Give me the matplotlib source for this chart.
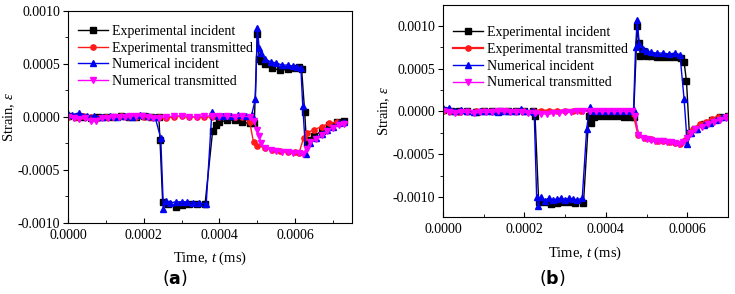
import numpy as np
import matplotlib
matplotlib.use("Agg")
import matplotlib.pyplot as plt
from matplotlib.ticker import MultipleLocator, FormatStrFormatter

plt.rcParams['font.family'] = ['Liberation Serif', 'DejaVu Serif']
plt.rcParams['mathtext.fontset'] = 'custom'
plt.rcParams['mathtext.rm'] = 'Liberation Serif'
plt.rcParams['mathtext.it'] = 'Liberation Serif:italic'
plt.rcParams['mathtext.bf'] = 'DejaVu Sans:bold'

# time and strain both in units of 1e-4 (ms and -)
# ---- panel (a) ----
a_exp_inc_t = [0, 0.2, 0.4, 0.6, 0.8, 1.0, 1.2, 1.4, 1.6, 1.8, 2.0, 2.2, 2.4, 2.43, 2.5, 2.65, 2.85, 3.0, 3.2, 3.4, 3.62,
               3.82, 3.9, 4.0, 4.2, 4.4, 4.6, 4.8, 4.92, 5.0, 5.05, 5.1, 5.2, 5.4, 5.6, 5.8, 6.0, 6.1, 6.17, 6.25, 6.3,
               6.35, 6.5, 6.7, 6.9, 7.1, 7.3]
a_exp_inc_v = [0.1, 0, 0, -0.1, 0, 0, 0, 0.1, 0, 0, 0.1, 0, 0, -2.2, -8.0, -8.2, -8.5, -8.3, -8.2, -8.2, -8.2,
               -1.3, -0.8, -0.5, -0.3, -0.3, -0.5, -0.6, -0.6, 7.8, 5.5, 5.3, 5.0, 4.6, 4.4, 4.5, 4.6, 4.7, 4.5, 0.5, -2.5,
               -2.2, -1.8, -1.3, -0.8, -0.5, -0.4]

a_exp_tra_t = [0, 0.2, 0.4, 0.6, 0.8, 1.0, 1.2, 1.4, 1.6, 1.8, 2.0, 2.2, 2.4, 2.6, 2.8, 3.0, 3.2, 3.4, 3.6, 3.8, 4.0,
               4.2, 4.4, 4.6, 4.8, 4.9, 5.0, 5.2, 5.4, 5.6, 5.8, 6.0, 6.1, 6.22, 6.3, 6.5, 6.7, 6.9, 7.1, 7.3]
a_exp_tra_v = [0, 0, 0.1, 0, -0.1, 0, 0, 0.1, 0, 0, 0, 0, 0, -0.1, 0, 0.1, 0, 0, 0, 0, 0,
               0.1, 0, 0, -0.5, -2.4, -2.7, -2.9, -3.1, -3.2, -3.3, -3.3, -3.4, -2.0, -1.5, -1.2, -0.9, -0.6, -0.5, -0.6]

a_num_inc_t = [0, 0.1, 0.3, 0.5, 0.7, 0.9, 1.1, 1.3, 1.5, 1.7, 1.9, 2.1, 2.3, 2.45, 2.52, 2.58, 2.7, 2.85, 3.0, 3.15, 3.3,
               3.45, 3.65, 3.8, 3.95, 4.1, 4.3, 4.5, 4.7, 4.85, 4.95, 5.0, 5.05, 5.1, 5.2, 5.35, 5.5, 5.65, 5.8, 5.95,
               6.05, 6.15, 6.2, 6.28, 6.4, 6.55, 6.7, 6.85, 7.0, 7.15, 7.3]
a_num_inc_v = [0.3, 0.2, 0.4, 0.1, 0.1, 0.0, 0.1, 0.0, 0.1, 0.0, 0.2, 0.1, 0.0, -2.0, -8.7, -7.9, -8.1, -8.0, -8.0, -8.0, -8.1,
               -8.1, -8.2, 0.5, 0.1, 0.1, 0.1, 0.2, 0.1, 0.2, 1.7, 8.4, 6.5, 6.0, 5.5, 5.2, 5.1, 4.9, 4.9, 4.8,
               4.7, 4.6, 1.0, -3.5, -2.5, -2.0, -1.6, -1.2, -0.9, -0.6, -0.5]

a_num_tra_t = [0, 0.15, 0.3, 0.45, 0.6, 0.75, 0.9, 1.05, 1.2, 1.35, 1.5, 1.65, 1.8, 1.95, 2.1, 2.25, 2.4, 2.6, 2.8, 3.0,
               3.2, 3.4, 3.6, 3.8, 4.0, 4.2, 4.4, 4.6, 4.8, 4.9, 5.0, 5.05, 5.1, 5.2, 5.35, 5.5, 5.65, 5.8, 5.95, 6.1,
               6.2, 6.3, 6.4, 6.55, 6.7, 6.85, 7.0, 7.15, 7.3]
a_num_tra_v = [0, -0.1, -0.2, -0.1, -0.4, -0.4, -0.1, -0.1, 0, 0, 0, 0.1, 0.1, 0.1, 0, -0.1, -0.1, 0, 0.1, 0.1,
               0, 0, 0.1, 0.1, 0.1, 0.1, 0, 0.1, 0, -0.4, -1.2, -1.8, -2.5, -2.9, -3.1, -3.2, -3.3, -3.3, -3.4, -3.4,
               -3.5, -3.0, -2.4, -2.1, -1.7, -1.3, -1.0, -0.8, -0.7]

# ---- panel (b) ----
b_exp_inc_t = [0, 0.2, 0.4, 0.6, 0.8, 1.0, 1.2, 1.4, 1.6, 1.8, 2.0, 2.2, 2.26, 2.35, 2.5, 2.65, 2.8, 2.95, 3.1, 3.25, 3.45,
               3.58, 3.63, 3.67, 3.72, 3.85, 4.0, 4.15, 4.3, 4.45, 4.6, 4.68, 4.77, 4.81, 4.85, 4.9, 5.0, 5.1, 5.25,
               5.4, 5.55, 5.7, 5.85, 5.92, 5.98, 6.05, 6.2, 6.4, 6.6, 6.8, 7.0]
b_exp_inc_v = [0.2, 0.1, 0, 0, -0.1, 0, 0, 0, 0.1, 0, 0, 0, -0.5, -10.5, -10.6, -10.8, -10.7, -10.5, -10.6, -10.7, -10.7,
               -0.5, -1.3, -0.5, -0.7, -0.5, -0.5, -0.5, -0.5, -0.6, -0.6, -0.7, 10.0, 8.0, 6.5, 7.0, 6.5, 6.4, 6.3,
               6.3, 6.3, 6.3, 6.2, 5.8, 3.5, -2.5, -2.0, -1.5, -1.0, -0.7, -0.5]

b_exp_tra_t = [0, 0.2, 0.4, 0.6, 0.8, 1.0, 1.2, 1.4, 1.6, 1.8, 2.0, 2.2, 2.4, 2.6, 2.8, 3.0, 3.2, 3.4, 3.6, 3.8, 4.0,
               4.2, 4.4, 4.6, 4.68, 4.8, 4.95, 5.1, 5.25, 5.4, 5.55, 5.7, 5.82, 5.95, 6.05, 6.15, 6.3, 6.45, 6.6, 6.75,
               6.9, 7.0]
b_exp_tra_v = [0, 0, -0.1, 0, 0, 0, 0.1, 0, 0, 0, 0, 0.1, 0.1, 0.1, 0.1, 0.1, 0.1, 0.1, 0.1, 0.1, 0.1,
               0.1, 0.1, 0.1, -0.3, -2.8, -3.1, -3.2, -3.4, -3.5, -3.6, -3.7, -3.8, -3.3, -2.5, -2.0, -1.5, -1.2, -0.9,
               -0.7, -0.6, -0.5]

b_num_inc_t = [0, 0.15, 0.3, 0.45, 0.6, 0.75, 0.9, 1.05, 1.2, 1.35, 1.5, 1.65, 1.8, 1.92, 2.05, 2.18, 2.24, 2.3, 2.34,
               2.4, 2.5, 2.6, 2.7, 2.8, 2.9, 3.0, 3.1, 3.2, 3.3, 3.42, 3.53, 3.6, 3.7, 3.85, 4.0, 4.15, 4.3, 4.45,
               4.6, 4.68, 4.73, 4.77, 4.82, 4.9, 5.0, 5.1, 5.25, 5.4, 5.55, 5.7, 5.82, 5.92, 6.0, 6.1, 6.25, 6.4,
               6.55, 6.7, 6.85, 7.0]
b_num_inc_v = [0.4, 0.4, 0.1, 0.2, 0, -0.1, 0, 0, 0, -0.1, 0, 0, 0.1, 0.3, 0, 0, -0.1, -10.0, -11.0, -10.0, -10.4,
               -10.1, -10.3, -10.2, -10.1, -10.3, -10.1, -10.2, -10.3, -10.1, -2.0, 0.5, 0, 0, 0.1, 0, 0.1, 0.1,
               0.1, 0.2, 7.5, 10.6, 7.9, 7.3, 7.0, 6.9, 6.8, 6.8, 6.7, 6.8, 6.6, 1.5, -3.8, -2.5, -2.0, -1.6,
               -1.3, -1.0, -0.7, -0.5]

b_num_tra_t = [0, 0.15, 0.3, 0.45, 0.6, 0.75, 0.9, 1.05, 1.2, 1.35, 1.5, 1.65, 1.8, 1.95, 2.1, 2.25, 2.4, 2.55, 2.7, 2.85,
               3.0, 3.15, 3.3, 3.45, 3.6, 3.75, 3.9, 4.05, 4.2, 4.35, 4.5, 4.65, 4.72, 4.8, 4.9, 5.0, 5.1, 5.2, 5.3,
               5.4, 5.5, 5.6, 5.7, 5.8, 5.9, 6.0, 6.1, 6.2, 6.35, 6.5, 6.65, 6.8, 6.95, 7.0]
b_num_tra_v = [0, -0.1, -0.2, -0.1, -0.1, -0.2, -0.1, -0.1, -0.1, 0, 0, -0.1, -0.1, -0.1, -0.2, -0.2, -0.3, -0.3, -0.2, -0.2,
               -0.1, -0.1, 0, 0, 0, 0, 0, 0, 0, 0, 0, 0, -0.5, -2.7, -3.1, -3.2, -3.3, -3.4, -3.5,
               -3.5, -3.6, -3.6, -3.7, -3.8, -3.6, -3.1, -2.5, -2.1, -1.8, -1.5, -1.2, -1.0, -0.8, -0.7]

labels = ["Experimental incident", "Experimental transmitted", "Numerical incident", "Numerical transmitted"]
colors = ["#000000", "#ff1a1a", "#0000f0", "#ff00ff"]
markers = ["s", "o", "^", "v"]

panels = [
    dict(series=[(a_exp_inc_t, a_exp_inc_v), (a_exp_tra_t, a_exp_tra_v), (a_num_inc_t, a_num_inc_v), (a_num_tra_t, a_num_tra_v)],
         rect=[0.0925, 0.2415, 0.3864, 0.7211], xlim=(0, 0.00075), ylim=(-0.001, 0.001), tag="a", tagx=0.238,
         leg_y=0.935, xlab_y=-0.127),
    dict(series=[(b_exp_inc_t, b_exp_inc_v), (b_exp_tra_t, b_exp_tra_v), (b_num_inc_t, b_num_inc_v), (b_num_tra_t, b_num_tra_v)],
         rect=[0.6027, 0.2619, 0.3878, 0.7211], xlim=(0, 0.0007), ylim=(-0.00123, 0.00124), tag="b", tagx=0.751,
         leg_y=0.90, xlab_y=-0.132),
]

fig = plt.figure(figsize=(7.35, 2.94), dpi=100)

for p in panels:
    ax = fig.add_axes(p["rect"])
    for (t, v), lab, c, m in zip(p["series"], labels, colors, markers):
        lw = 1.6 if (p["tag"] == "b" and c == "#ff1a1a") else 1.0
        ax.plot(np.array(t) * 1e-4, np.array(v) * 1e-4, color=c, marker=m, markersize=3.8,
                linewidth=lw, label=lab)
    ax.set_xlim(*p["xlim"])
    ax.set_ylim(*p["ylim"])
    ax.xaxis.set_major_locator(MultipleLocator(0.0002))
    ax.xaxis.set_minor_locator(MultipleLocator(0.0001))
    ax.yaxis.set_major_locator(MultipleLocator(0.0005))
    ax.yaxis.set_minor_locator(MultipleLocator(0.00025))
    ax.xaxis.set_major_formatter(FormatStrFormatter("%.4f"))
    ax.yaxis.set_major_formatter(FormatStrFormatter("%.4f"))
    ax.tick_params(axis="x", which="both", direction="in", labelsize=10, pad=4)
    ax.tick_params(axis="y", which="both", direction="out", labelsize=10, pad=2)
    ax.tick_params(which="major", length=3.5, width=0.8)
    ax.tick_params(which="minor", length=2, width=0.6)
    for s in ax.spines.values():
        s.set_linewidth(0.8)
    ax.set_xlabel("Time, $t$ (ms)", fontsize=10.5)
    ax.set_ylabel("Strain, $\\varepsilon$", fontsize=10.5)
    ax.xaxis.set_label_coords(0.5, p["xlab_y"])
    ax.yaxis.set_label_coords(-0.18, 0.5)
    ax.legend(loc="upper left", bbox_to_anchor=(0.034, p["leg_y"]), frameon=False, fontsize=10,
              handlelength=2.2, handletextpad=0.25, labelspacing=0.27, borderpad=0, borderaxespad=0)
    fig.text(p["tagx"], 0.055, "($\\mathbf{" + p["tag"] + "}$)", fontsize=12.5, family="DejaVu Sans",
             ha="center", va="center")

fig.savefig("out.png", dpi=100)
